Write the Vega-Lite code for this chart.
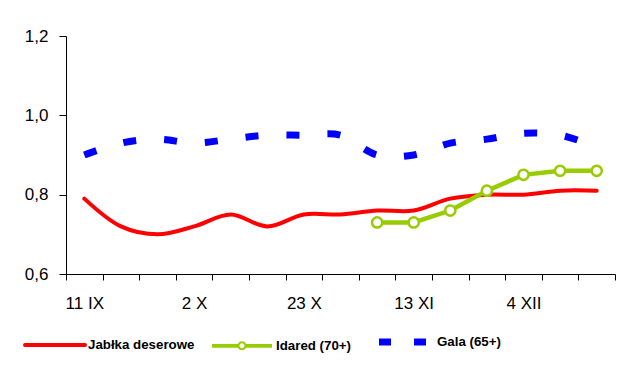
{
  "$schema": "https://vega.github.io/schema/vega-lite/v6.json",
  "width": 549,
  "height": 238,
  "autosize": {"type": "none"},
  "padding": {"left": 66, "top": 36, "right": 15, "bottom": 102},
  "background": "white",
  "config": {
    "view": {"stroke": null},
    "font": "Liberation Sans",
    "axis": {"labelFont": "Liberation Sans", "labelColor": "black", "domainColor": "black", "tickColor": "black", "grid": false, "title": null}
  },
  "data": {
    "values": [
      {"week": "11 IX", "series": "Jabłka deserowe", "value": 0.79},
      {"week": "18 IX", "series": "Jabłka deserowe", "value": 0.72},
      {"week": "25 IX", "series": "Jabłka deserowe", "value": 0.70},
      {"week": "2 X", "series": "Jabłka deserowe", "value": 0.72},
      {"week": "9 X", "series": "Jabłka deserowe", "value": 0.75},
      {"week": "16 X", "series": "Jabłka deserowe", "value": 0.72},
      {"week": "23 X", "series": "Jabłka deserowe", "value": 0.75},
      {"week": "30 X", "series": "Jabłka deserowe", "value": 0.75},
      {"week": "6 XI", "series": "Jabłka deserowe", "value": 0.76},
      {"week": "13 XI", "series": "Jabłka deserowe", "value": 0.76},
      {"week": "20 XI", "series": "Jabłka deserowe", "value": 0.79},
      {"week": "27 XI", "series": "Jabłka deserowe", "value": 0.80},
      {"week": "4 XII", "series": "Jabłka deserowe", "value": 0.80},
      {"week": "11 XII", "series": "Jabłka deserowe", "value": 0.81},
      {"week": "18 XII", "series": "Jabłka deserowe", "value": 0.81},
      {"week": "6 XI", "series": "Idared (70+)", "value": 0.73},
      {"week": "13 XI", "series": "Idared (70+)", "value": 0.73},
      {"week": "20 XI", "series": "Idared (70+)", "value": 0.76},
      {"week": "27 XI", "series": "Idared (70+)", "value": 0.81},
      {"week": "4 XII", "series": "Idared (70+)", "value": 0.85},
      {"week": "11 XII", "series": "Idared (70+)", "value": 0.86},
      {"week": "18 XII", "series": "Idared (70+)", "value": 0.86},
      {"week": "11 IX", "series": "Gala (65+)", "value": 0.90},
      {"week": "18 IX", "series": "Gala (65+)", "value": 0.93},
      {"week": "25 IX", "series": "Gala (65+)", "value": 0.94},
      {"week": "2 X", "series": "Gala (65+)", "value": 0.93},
      {"week": "9 X", "series": "Gala (65+)", "value": 0.94},
      {"week": "16 X", "series": "Gala (65+)", "value": 0.95},
      {"week": "23 X", "series": "Gala (65+)", "value": 0.95},
      {"week": "30 X", "series": "Gala (65+)", "value": 0.95},
      {"week": "6 XI", "series": "Gala (65+)", "value": 0.90},
      {"week": "13 XI", "series": "Gala (65+)", "value": 0.90},
      {"week": "20 XI", "series": "Gala (65+)", "value": 0.93},
      {"week": "27 XI", "series": "Gala (65+)", "value": 0.94},
      {"week": "4 XII", "series": "Gala (65+)", "value": 0.955},
      {"week": "11 XII", "series": "Gala (65+)", "value": 0.95},
      {"week": "18 XII", "series": "Gala (65+)", "value": 0.92}
    ]
  },
  "encoding": {
    "x": {
      "field": "week",
      "type": "ordinal",
      "sort": null,
      "bandPosition": 0.5,
      "scale": {
        "type": "band",
        "domain": ["11 IX", "18 IX", "25 IX", "2 X", "9 X", "16 X", "23 X", "30 X", "6 XI", "13 XI", "20 XI", "27 XI", "4 XII", "11 XII", "18 XII"],
        "paddingInner": 0,
        "paddingOuter": 0
      },
      "axis": {
        "tickBand": "extent",
        "tickSize": 6,
        "labelAngle": 0,
        "labelFontSize": 17,
        "labelPadding": 15,
        "labelOverlap": false,
        "labelExpr": "indexof(['11 IX','2 X','23 X','13 XI','4 XII'], datum.value) >= 0 ? datum.value : ''"
      }
    },
    "y": {
      "field": "value",
      "type": "quantitative",
      "scale": {"domain": [0.6, 1.2], "zero": false, "nice": false},
      "axis": {
        "values": [0.6, 0.8, 1.0, 1.2],
        "tickSize": 7,
        "labelFontSize": 17,
        "labelPadding": 11,
        "labelExpr": "replace(format(datum.value, '.1f'), '.', ',')"
      }
    }
  },
  "layer": [
    {
      "transform": [{"filter": "datum.series === 'Gala (65+)'"}],
      "mark": {"type": "line", "interpolate": "catmull-rom", "strokeWidth": 7, "strokeDash": [13, 28], "strokeCap": "butt"},
      "encoding": {
        "color": {
          "field": "series", "type": "nominal",
          "scale": {"domain": ["Jabłka deserowe", "Idared (70+)", "Gala (65+)"], "range": ["#ff0000", "#99cc00", "#0000ff"]},
          "legend": {
            "title": null, "orient": "none", "direction": "horizontal", "legendX": -43, "legendY": 274,
            "padding": 0, "columnPadding": 12, "symbolSize": 3600, "symbolStrokeWidth": 4, "symbolType": "stroke",
            "labelFont": "Liberation Sans", "labelFontWeight": "bold", "labelFontSize": 13.3, "labelColor": "black", "labelOffset": 1,
            "encode": {
              "labels": {
                "update": {
                  "dx": {"signal": "(datum.value === 'Idared (70+)' ? 4 : (datum.value === 'Gala (65+)' ? -4 : 0))"}
                }
              },
              "symbols": {
                "update": {
                  "shape": {"signal": "(datum.value === 'Idared (70+)' ? 'M-0.9,-0.06H-0.04V0.06H-0.9Z M0.24,-0.06H1.1V0.06H0.24Z M0.25,0A0.15,0.15,0,1,1,-0.05,0A0.15,0.15,0,1,1,0.25,0Z M0.1833,0A0.0833,0.0833,0,1,0,0.0167,0A0.0833,0.0833,0,1,0,0.1833,0Z' : 'stroke')"},
                  "fill": {"signal": "(datum.value === 'Idared (70+)' ? '#99cc00' : 'transparent')"},
                  "stroke": {"signal": "(datum.value === 'Idared (70+)' ? 'transparent' : (datum.value === 'Gala (65+)' ? '#0000ff' : '#ff0000'))"},
                  "strokeWidth": {"signal": "(datum.value === 'Gala (65+)' ? 7 : (datum.value === 'Idared (70+)' ? 0 : 4))"},
                  "strokeDash": {"signal": "(datum.value === 'Gala (65+)' ? [12, 23] : [1, 0])"},
                  "strokeDashOffset": {"signal": "(datum.value === 'Gala (65+)' ? 34 : 0)"},
                  "strokeCap": {"signal": "(datum.value === 'Gala (65+)' ? 'butt' : 'round')"},
                  "opacity": {"value": 1}
                }
              }
            }
          }
        }
      }
    },
    {
      "transform": [{"filter": "datum.series === 'Jabłka deserowe'"}],
      "mark": {"type": "line", "interpolate": "catmull-rom", "strokeWidth": 4, "strokeCap": "round"},
      "encoding": {
        "color": {"field": "series", "type": "nominal"}
      }
    },
    {
      "transform": [{"filter": "datum.series === 'Idared (70+)'"}],
      "mark": {"type": "line", "strokeWidth": 4.5},
      "encoding": {
        "color": {"field": "series", "type": "nominal"}
      }
    },
    {
      "transform": [{"filter": "datum.series === 'Idared (70+)'"}],
      "mark": {"type": "point", "filled": true, "fill": "white", "stroke": "#99cc00", "strokeWidth": 2.5, "size": 105, "opacity": 1}
    }
  ]
}
